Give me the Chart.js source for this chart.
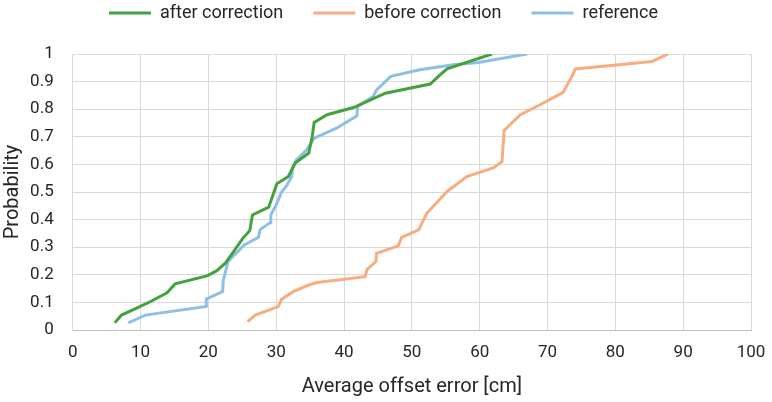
<!DOCTYPE html>
<html>
<head>
<meta charset="utf-8">
<script src="https://cdn.jsdelivr.net/npm/chart.js@4.4.1/dist/chart.umd.min.js"></script>
<style>
html,body{margin:0;padding:0;background:#fff;}
#wrap{width:772px;height:402px;position:relative;}
</style>
</head>
<body>
<div id="wrap"><canvas id="c" width="772" height="402"></canvas></div>
<script>
const seriesNames = ["after correction", "before correction", "reference"];
const seriesColors = ["#43a23d", "#f8ac80", "#8ec0e5"];

const afterX = [6.2, 7.2, 9.9, 11.7, 13.9, 15.1, 19.8, 21.2, 22.5, 23.9, 25.1, 26.1, 26.5, 28.9, 30.1, 31.8, 32.8, 34.8, 35.3, 35.6, 37.5, 41.4, 46.1, 52.7, 54.2, 55.2, 61.8];
const afterY = [0.026, 0.054, 0.085, 0.106, 0.135, 0.167, 0.196, 0.214, 0.242, 0.29, 0.333, 0.36, 0.417, 0.445, 0.53, 0.556, 0.605, 0.641, 0.70, 0.752, 0.78, 0.806, 0.858, 0.891, 0.925, 0.946, 1.0];

const beforeX = [25.8, 26.9, 30.3, 30.8, 32.5, 34.8, 36.0, 43.1, 43.4, 44.7, 44.8, 48.0, 48.5, 51.0, 52.2, 55.2, 58.1, 62.0, 63.3, 63.6, 66.0, 68.9, 72.3, 73.6, 74.1, 85.4, 87.8];
const beforeY = [0.03, 0.054, 0.085, 0.111, 0.139, 0.163, 0.172, 0.193, 0.22, 0.248, 0.278, 0.305, 0.336, 0.363, 0.423, 0.502, 0.556, 0.587, 0.61, 0.723, 0.78, 0.816, 0.861, 0.919, 0.946, 0.973, 1.0];

const refX = [8.2, 10.7, 19.7, 19.7, 22.1, 22.2, 22.6, 22.9, 25.3, 27.4, 27.6, 29.1, 29.2, 30.0, 30.8, 31.6, 32.3, 32.4, 33.0, 34.5, 35.6, 38.9, 41.9, 42.0, 44.3, 44.8, 46.9, 51.2, 56.1, 59.8, 67.0];
const refY = [0.026, 0.054, 0.085, 0.112, 0.139, 0.18, 0.218, 0.248, 0.308, 0.336, 0.363, 0.389, 0.417, 0.453, 0.50, 0.526, 0.556, 0.587, 0.617, 0.653, 0.695, 0.731, 0.776, 0.81, 0.846, 0.87, 0.919, 0.943, 0.961, 0.969, 1.0];

const xTickValues = [0, 10, 20, 30, 40, 50, 60, 70, 80, 90, 100];
const yTickValues = [0, 0.1, 0.2, 0.3, 0.4, 0.5, 0.6, 0.7, 0.8, 0.9, 1];

const xTitle = "Average offset error [cm]";
const yTitle = "Probability";

const toPts = (xs, ys) => xs.map((x, i) => ({x: x, y: ys[i]}));
const FONT = "'Roboto', sans-serif";
const TXT = '#262626';

const fixLegend = {
  id: 'fixLegend',
  beforeLayout(chart) {
    const lg = chart.legend;
    if (lg && !lg._patched) {
      const f = lg.fit;
      lg.fit = function () { f.call(this); this.height = 80; };
      lg._patched = true;
    }
  }
};

new Chart(document.getElementById('c'), {
  type: 'scatter',
  data: {
    datasets: [
      {label: seriesNames[0], data: toPts(afterX, afterY), borderColor: seriesColors[0], backgroundColor: seriesColors[0]},
      {label: seriesNames[1], data: toPts(beforeX, beforeY), borderColor: seriesColors[1], backgroundColor: seriesColors[1]},
      {label: seriesNames[2], data: toPts(refX, refY), borderColor: seriesColors[2], backgroundColor: seriesColors[2]}
    ].map(d => Object.assign(d, {showLine: true, pointRadius: 0, borderWidth: 3, tension: 0, fill: false}))
  },
  options: {
    responsive: false,
    animation: false,
    layout: {padding: {left: 0, right: 5, top: -26, bottom: 0}},
    plugins: {
      tooltip: {enabled: false},
      legend: {
        position: 'top',
        labels: {
          boxWidth: 42, boxHeight: 3, padding: 30,
          color: TXT, font: {family: FONT, size: 18},
          generateLabels: (chart) => Chart.defaults.plugins.legend.labels.generateLabels(chart).map(l => Object.assign(l, {lineWidth: 0, fillStyle: l.strokeStyle}))
        }
      }
    },
    scales: {
      x: {
        type: 'linear', min: 0, max: 100,
        afterBuildTicks: (s) => { s.ticks = xTickValues.map(v => ({value: v})); },
        ticks: {color: TXT, font: {family: FONT, size: 17}, padding: 13, maxRotation: 0},
        grid: {color: '#d9d9d9', lineWidth: 1, drawTicks: false},
        border: {color: '#bfbfbf', width: 1},
        title: {display: true, text: xTitle, color: TXT, font: {family: FONT, size: 20}, padding: {top: 4, bottom: 3}},
        afterFit: (s) => { s.height = 72; s.paddingLeft = 0; s.paddingRight = 0; }
      },
      y: {
        type: 'linear', min: 0, max: 1,
        afterBuildTicks: (s) => { s.ticks = yTickValues.map(v => ({value: v})); },
        ticks: {color: TXT, font: {family: FONT, size: 17}, padding: 19,
          callback: (v) => Math.round(v * 10) / 10 + ''},
        grid: {color: '#d9d9d9', lineWidth: 1, drawTicks: false},
        border: {color: '#d9d9d9', width: 1},
        title: {display: true, text: yTitle, color: TXT, font: {family: FONT, size: 20}, padding: {top: 1, bottom: 0}},
        afterFit: (s) => { s.width = 72.7; s.paddingTop = 0; s.paddingBottom = 0; }
      },
      yRight: {
        type: 'linear', position: 'right', min: 0, max: 1,
        display: true,
        grid: {display: false, drawOnChartArea: false},
        ticks: {display: false},
        border: {display: false},
        afterFit: (s) => { s.width = 16; s.paddingTop = 0; s.paddingBottom = 0; }
      }
    }
  },
  plugins: [fixLegend]
});
</script>
</body>
</html>
